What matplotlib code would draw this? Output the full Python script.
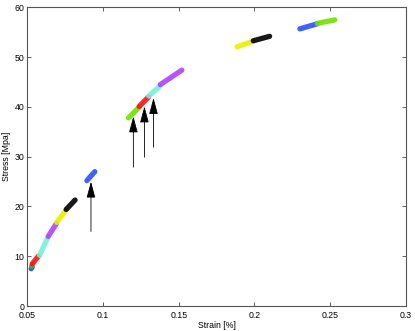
import numpy as np
import matplotlib.pyplot as plt

# segments of the stress-strain curve (start, end)
seg_strain = [(0.0525, 0.0532), (0.0528, 0.0531), (0.0533, 0.0572), (0.0580, 0.0636),
              (0.0638, 0.0692), (0.0694, 0.0754), (0.0756, 0.0815), (0.0893, 0.0945),
              (0.1168, 0.1240), (0.1238, 0.1300), (0.1302, 0.1375), (0.1378, 0.1520),
              (0.1885, 0.1990), (0.1992, 0.2100), (0.2300, 0.2413), (0.2415, 0.2530)]
seg_stress = [(7.5, 7.8), (8.0, 8.3), (8.5, 10.0), (10.2, 13.8),
              (14.0, 16.6), (16.8, 19.2), (19.4, 21.3), (25.2, 27.0),
              (37.8, 40.0), (40.1, 42.0), (42.2, 44.2), (44.5, 47.4),
              (52.1, 53.2), (53.3, 54.2), (55.7, 56.7), (56.8, 57.5)]
seg_colors = ['#2a40ff', '#40c000', '#ff1010', '#78f0d8',
              '#b040ff', '#e8f000', '#000000', '#2a50ff',
              '#70e000', '#ff1010', '#78f0d8', '#b040ff',
              '#e8f000', '#000000', '#2a50ff', '#70e000']

# arrows: strain position, tail stress, tip stress
arrow_strain = [0.0920, 0.1200, 0.1273, 0.1333]
arrow_tail = [15.0, 27.9, 29.9, 31.9]
arrow_tip = [25.0, 38.1, 40.1, 41.8]

plt.rcParams['font.family'] = ['Liberation Sans', 'DejaVu Sans']

fig = plt.figure(figsize=(4.15, 3.31), dpi=100)
ax = fig.add_axes([0.066, 0.0755, 0.912, 0.902])

for (x0, x1), (y0, y1), c in zip(seg_strain, seg_stress, seg_colors):
    ax.plot([x0, x1], [y0, y1], color=c, lw=3.8, solid_capstyle='round', alpha=0.9)

for x, y0, y1 in zip(arrow_strain, arrow_tail, arrow_tip):
    ax.annotate('', xy=(x, y1), xytext=(x, y0),
                arrowprops=dict(arrowstyle='-|>,head_length=1.0,head_width=0.27',
                                color='k', lw=0.6, shrinkA=0, shrinkB=0,
                                mutation_scale=10))

ax.set_xlim(0.05, 0.3)
ax.set_ylim(0, 60)
ax.set_xticks([0.05, 0.1, 0.15, 0.2, 0.25, 0.3])
ax.set_xticklabels(['0.05', '0.1', '0.15', '0.2', '0.25', '0.3'])
ax.set_yticks(np.arange(0, 61, 10))
ax.tick_params(direction='in', length=3, width=0.6, labelsize=6.3, color='#444444',
               top=True, right=True, pad=2)
ax.tick_params(axis='x', pad=3.5)
for s in ax.spines.values():
    s.set_color('#555555')
    s.set_linewidth(0.8)
ax.set_xlabel('Strain [%]', fontsize=6.3, labelpad=1)
ax.set_ylabel('Stress [Mpa]', fontsize=6.3, labelpad=3)

fig.savefig('out.png', dpi=100)
